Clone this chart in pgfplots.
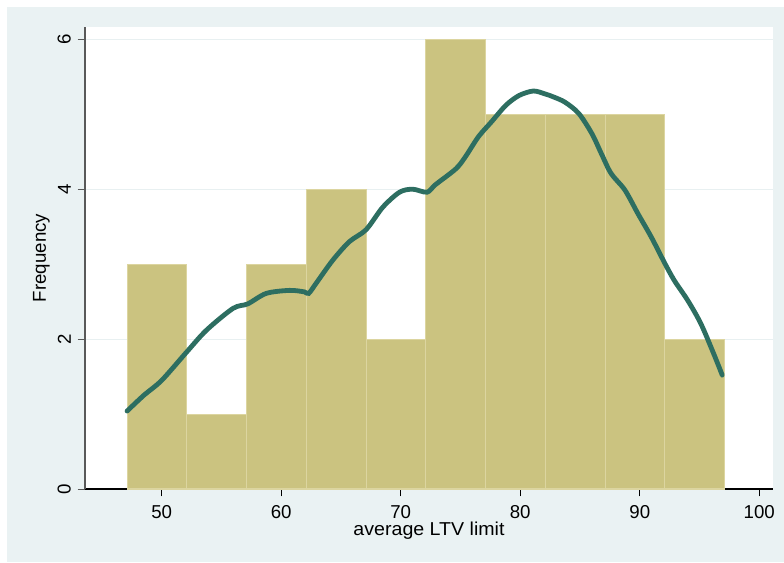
\documentclass[border=0pt]{standalone}
\usepackage{pgfplots}
\pgfplotsset{compat=1.18}
\usepackage{fontspec}
\setmainfont{Liberation Sans}

\definecolor{bgpanel}{RGB}{234,242,243}
\definecolor{barfill}{RGB}{203,195,128}
\definecolor{baredge}{RGB}{220,213,160}
\definecolor{kdline}{RGB}{45,110,97}
\definecolor{gridc}{RGB}{232,240,241}

\begin{document}
\begin{tikzpicture}[x=0.75pt,y=0.75pt]
	% page and outer panel (1 unit = 1 px of the reference)
	\useasboundingbox (0,0) rectangle (784,562);
	\fill[white] (0,0) rectangle (784,562);
	\fill[bgpanel] (7,0) rectangle (784,555);
	\begin{axis}[
		at={(63.75pt,54.75pt)}, anchor=south west,
		scale only axis,
		width=516pt, height=346.5pt,
		xmin=43.58, xmax=101.15,
		ymin=0, ymax=6.164,
		axis background/.style={fill=white},
		axis x line*=bottom, axis y line*=left,
		x axis line style={-, black, line width=0.9pt},
		y axis line style={-, black!65, line width=0.9pt},
		xtick={50,60,...,100}, ytick={0,2,4,6},
		tick align=outside, major tick length=5.6pt,
		x tick style={black, line width=0.75pt},
		y tick style={black!65, line width=0.75pt},
		ymajorgrids, major grid style={gridc, line width=0.9pt},
		tick label style={font=\fontsize{14}{16}\selectfont},
		label style={font=\fontsize{14}{16}\selectfont},
		/pgf/number format/assume math mode=true,
		yticklabel style={rotate=90, anchor=south},
		xticklabel style={yshift=-3.5pt},
		yticklabel style={yshift=1.5pt},
		xlabel={average LTV limit},
		ylabel={Frequency},
		xlabel style={at={(axis description cs:0.5,-0.1017)}, anchor=base, xscale=1.05},
		ylabel style={at={(axis description cs:-0.0567,0.5)}, anchor=base, rotate=0},
		clip=false,
	]
		% histogram, bin width 5 starting at 47.1
		\addplot[ybar interval, fill=barfill, draw=baredge, line width=0.8pt]
			coordinates {
				(47.1,3)(52.1,1)(57.1,3)(62.1,4)(67.1,2)(72.1,6)(77.1,5)(82.1,5)(87.1,5)(92.1,2)(97.1,2)
			};
		% kernel density, scaled to frequency
		\addplot[kdline, line width=3.6pt, smooth, line cap=round]
			coordinates {
				(47.1,1.04)(48.5,1.25)(50.0,1.45)(52.1,1.83)(53.75,2.12)(55.97,2.41)(57.2,2.47)
				(58.75,2.61)(60.7,2.65)(61.94,2.63)(62.3,2.61)(62.9,2.74)(64.3,3.05)(65.7,3.30)
				(67.1,3.46)(68.5,3.76)(69.9,3.96)(71.0,4.00)(72.2,3.96)(72.9,4.06)(74.6,4.27)
				(75.4,4.43)(76.5,4.70)(77.6,4.90)(78.8,5.12)(79.9,5.25)(81.1,5.31)(82.1,5.27)
				(82.8,5.23)(83.75,5.16)(84.9,5.01)(86.0,4.74)(86.8,4.47)(87.6,4.21)(88.75,3.99)
				(89.86,3.67)(90.97,3.36)(92.1,3.01)(92.9,2.78)(94.0,2.52)(95.1,2.21)(96.2,1.80)(96.9,1.52)
			};
	\end{axis}
\end{tikzpicture}
\end{document}
